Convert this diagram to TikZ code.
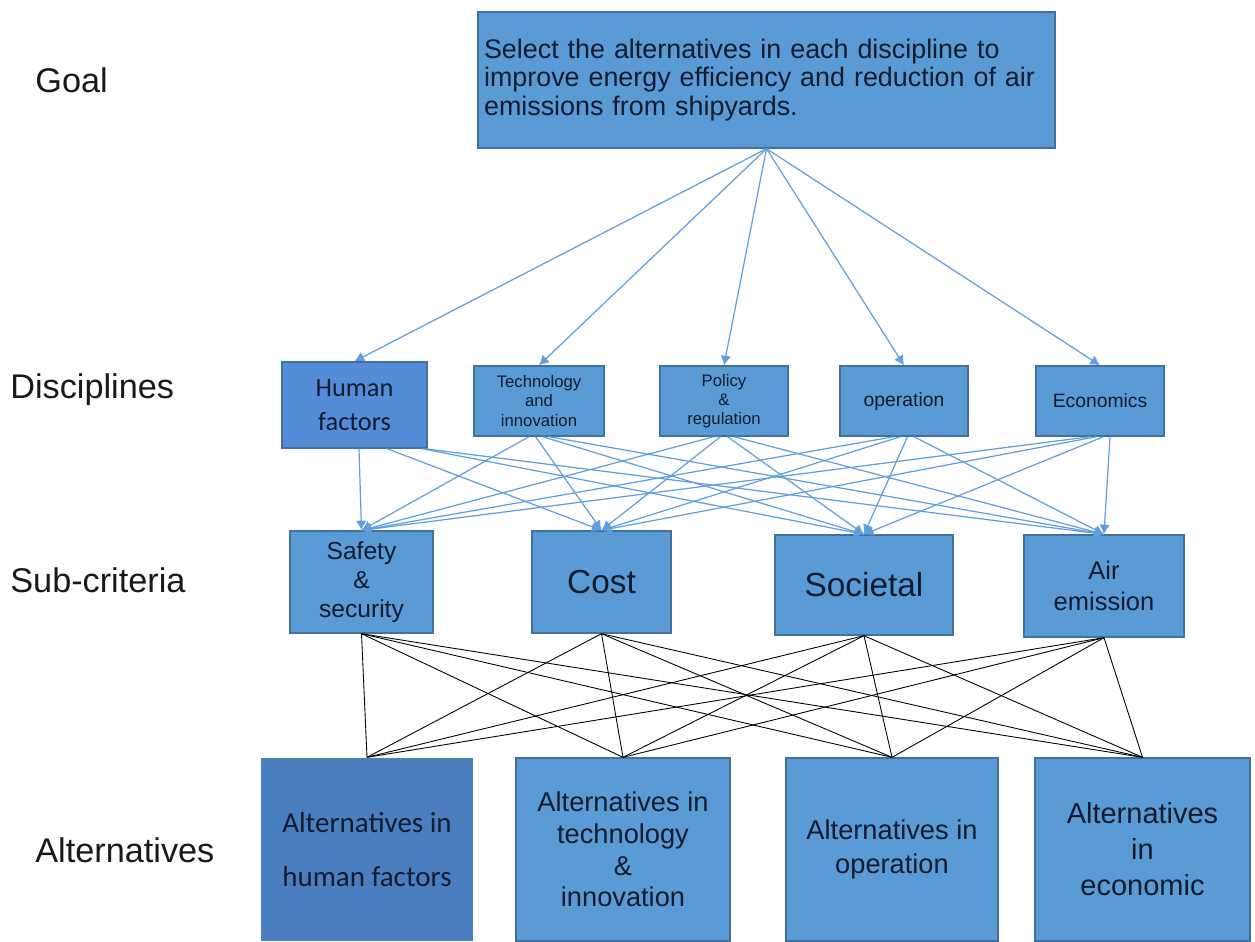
\documentclass[tikz,border=0pt]{standalone}
\usepackage{fontspec}
\setmainfont{Liberation Sans}
\newfontfamily\calibfont{Carlito}
\usetikzlibrary{arrows.meta}
\definecolor{boxblue}{RGB}{91,155,213}
\definecolor{boxline}{RGB}{65,113,156}
\definecolor{hfblue}{RGB}{84,140,214}
\definecolor{altdark}{RGB}{74,126,190}
\definecolor{txtnavy}{RGB}{18,28,48}
\definecolor{arrblue}{RGB}{96,158,222}

\begin{document}
\begin{tikzpicture}[x=0.02cm,y=-0.02cm,
	box/.style={draw=boxline,line width=0.8pt,fill=boxblue,text=txtnavy,align=center,inner sep=0pt},
	lvl/.style={anchor=west,inner sep=0pt,text=black!90,font=\fontsize{19.5}{22}\selectfont},
	arr/.style={-{Latex[length=5.5pt,width=6pt]},draw=arrblue,line width=0.7pt},
	link/.style={draw=black,line width=0.5pt}]
	\useasboundingbox (0,0) rectangle (1255,941);
	%levels
	\node[lvl] (lgoal) at (35,80) {Goal};
	\node[lvl] (ldisc) at (10,390) {Disciplines};
	\node[lvl] (lsub) at (10,580) {Sub-criteria};
	\node[lvl] (lalt) at (35,850) {Alternatives};
	%goal
	\node[box,minimum width=11.54cm,minimum height=2.72cm,text width=11.3cm,align=left,
		font=\fontsize{15.3}{16.3}\selectfont] (goal) at (766.5,80)
		{Select the alternatives in each discipline to\\improve energy efficiency and reduction of air\\emissions from shipyards.};
	%disciplines
	\node[box,fill=hfblue,minimum width=2.9cm,minimum height=1.72cm,
		font=\calibfont\fontsize{15}{19}\selectfont] (human) at (354.5,405) {Human\\factors};
	\node[box,minimum width=2.6cm,minimum height=1.4cm,
		font=\fontsize{9.5}{11}\selectfont] (tech) at (539,401) {Technology\\and\\innovation};
	\node[box,minimum width=2.56cm,minimum height=1.4cm,
		font=\fontsize{9.5}{11}\selectfont] (policy) at (724,401) {Policy\\\&\\regulation};
	\node[box,minimum width=2.56cm,minimum height=1.4cm,
		font=\fontsize{11}{13}\selectfont] (oper) at (904,401) {operation};
	\node[box,minimum width=2.56cm,minimum height=1.4cm,
		font=\fontsize{11}{13}\selectfont] (econ) at (1100,401) {Economics};
	%sub-criteria
	\node[box,minimum width=2.86cm,minimum height=2.04cm,
		font=\fontsize{14}{16.5}\selectfont] (safety) at (361.5,582) {Safety\\\&\\security};
	\node[box,minimum width=2.78cm,minimum height=2.04cm,
		font=\fontsize{19}{22}\selectfont] (cost) at (601.5,582) {Cost};
	\node[box,minimum width=3.56cm,minimum height=2cm,
		font=\fontsize{19}{22}\selectfont] (societal) at (864,585) {Societal};
	\node[box,minimum width=3.2cm,minimum height=2.04cm,
		font=\fontsize{14.5}{18}\selectfont] (air) at (1104,586) {Air\\emission};
	%alternatives
	\node[box,draw=none,fill=altdark,minimum width=4.24cm,minimum height=3.66cm,
		font=\calibfont\fontsize{16.5}{31}\selectfont] (althum) at (367,849.5) {Alternatives in\\human factors};
	\node[box,minimum width=4.28cm,minimum height=3.66cm,
		font=\fontsize{15.5}{18}\selectfont] (alttech) at (623,849.5) {Alternatives in\\technology\\\&\\innovation};
	\node[box,minimum width=4.24cm,minimum height=3.66cm,
		font=\fontsize{15.5}{19}\selectfont] (altoper) at (892,849.5) {Alternatives in\\operation};
	\node[box,minimum width=4.3cm,minimum height=3.66cm,
		font=\fontsize{16.5}{20.5}\selectfont] (altecon) at (1142.5,849.5) {Alternatives\\in\\economic};
	% goal to disciplines
	\foreach \d in {human,tech,policy,oper,econ}
		\draw[arr] (goal.south) -- (\d.north);
	% disciplines to sub-criteria
	\foreach \s/\sh in {safety/0.09,cost/0.65,societal/1.35,air/1.4}
		\draw[arr] ([xshift=\sh cm]human.south) -- (\s.north);
	\foreach \d in {tech,policy,oper,econ}
		\foreach \s/\sh in {safety/-0.2,cost/-0.07,societal/0.07,air/0.2}
			\draw[arr] ([xshift=\sh cm]\d.south) -- (\s.north);
	% sub-criteria to alternatives
	\foreach \s in {safety,cost,societal,air}
		\foreach \a in {althum,alttech,altoper,altecon}
			\draw[link] (\s.south) -- (\a.north);
\end{tikzpicture}
\end{document}
